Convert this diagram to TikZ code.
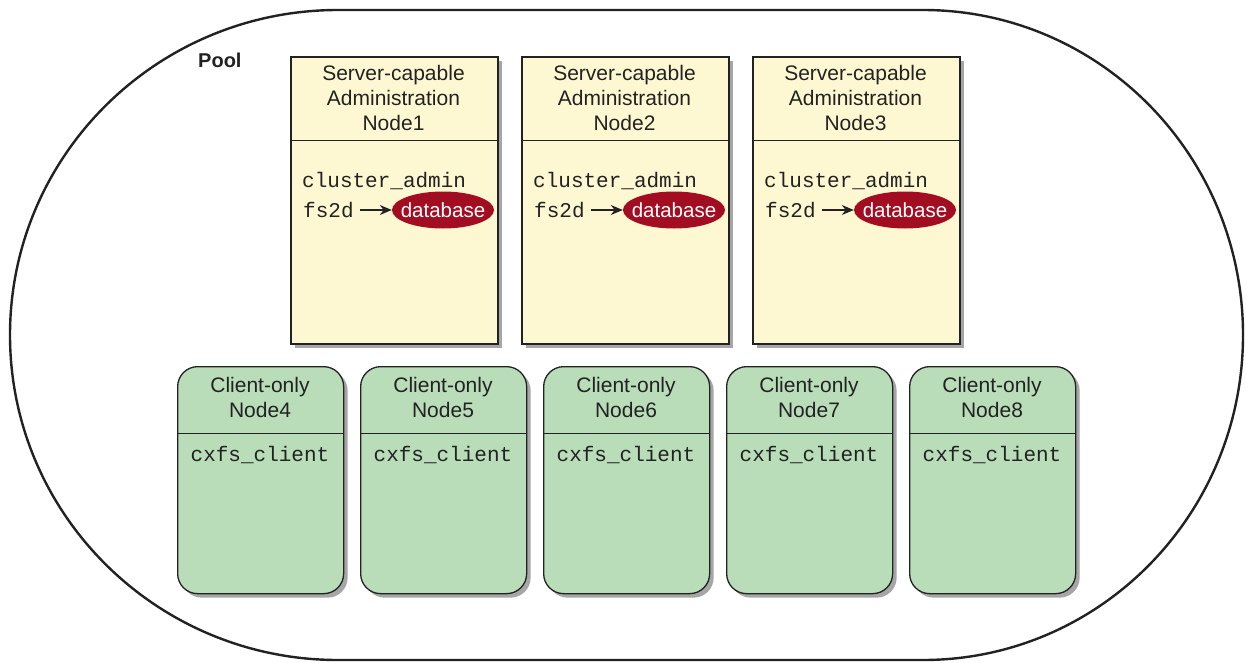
\documentclass[tikz,border=0pt]{standalone}
\usepackage{fontspec}
\setmainfont{Liberation Sans}
\setmonofont{Liberation Mono}
\usetikzlibrary{shadows,arrows.meta,shapes.geometric}
\definecolor{yellowfill}{HTML}{FEF8D2}
\definecolor{greenfill}{HTML}{B8DDB8}
\definecolor{dbred}{HTML}{A30D22}
\definecolor{ink}{HTML}{222222}
\begin{document}
\begin{tikzpicture}[x=1pt,y=-1pt,
  poolline/.style={draw=ink, line width=2.4pt},
  serverbox/.style={draw=ink, line width=2.2pt, fill=yellowfill, minimum width=207pt, minimum height=287pt, anchor=north west, inner sep=0pt,
    general shadow={fill=black!35, shadow xshift=4pt, shadow yshift=-4pt}},
  clientbox/.style={draw=ink, line width=1.3pt, fill=greenfill, rounded corners=20pt, minimum width=166pt, minimum height=227pt, anchor=north west, inner sep=0pt,
    general shadow={fill=black!35, shadow xshift=4pt, shadow yshift=-4pt}},
  divider/.style={draw=ink, line width=1pt},
  title/.style={text=ink, align=center, font=\fontsize{21}{25}\selectfont, inner sep=0pt, anchor=base},
  code/.style={text=ink, font=\ttfamily\fontsize{21}{25}\selectfont, inner sep=0pt},
  dbnode/.style={ellipse, fill=dbred, text=white, font=\fontsize{20.5}{24}\selectfont, minimum width=102pt, minimum height=37pt, inner xsep=-6.5pt, inner ysep=2pt},
  link/.style={draw=ink, line width=1.4pt, shorten <=6pt, -{Stealth[length=12pt,width=10pt]}},
]
\useasboundingbox (0,0) rectangle (1246,663);
% pool outline
\draw[poolline] (10,335) arc[start angle=180,end angle=270,x radius=328,y radius=325]
  -- (923,10) arc[start angle=270,end angle=450,x radius=320,y radius=325]
  -- (338,660) arc[start angle=90,end angle=180,x radius=328,y radius=325] -- cycle;
\node[font=\bfseries\fontsize{20}{24}\selectfont, text=ink, anchor=base west, inner sep=0pt] (pool) at (198,68) {Pool};
% server nodes
\foreach \i/\x in {1/290,2/521,3/752}{
  \node[serverbox] (s\i) at (\x,56) {};
  \draw[divider] ([yshift=-85pt]s\i.north west) -- ([yshift=-85pt]s\i.north east);
  \node[title] (st\i) at (\x+103.5,131) {Server-capable\\Administration\\Node\i};
  \node[code, anchor=base west] (ca\i) at (\x+12,187) {cluster\_admin};
  \node[code, anchor=base west] (fs\i) at (\x+13,217) {fs2d};
  \node[dbnode] (db\i) at (\x+153,210) {database};
  \draw[link] (fs\i.east |- db\i.west) -- (db\i.west);
}
% client nodes
\foreach \i/\x in {4/177,5/360,6/543,7/726,8/909}{
  \node[clientbox] (c\i) at (\x,366) {};
  \draw[divider] ([yshift=-67pt]c\i.north west) -- ([yshift=-67pt]c\i.north east);
  \node[title] (ct\i) at (\x+83,417) {Client-only\\Node\i};
  \node[code, anchor=base] (cx\i) at (\x+83,461) {cxfs\_client};
}
\end{tikzpicture}
\end{document}
